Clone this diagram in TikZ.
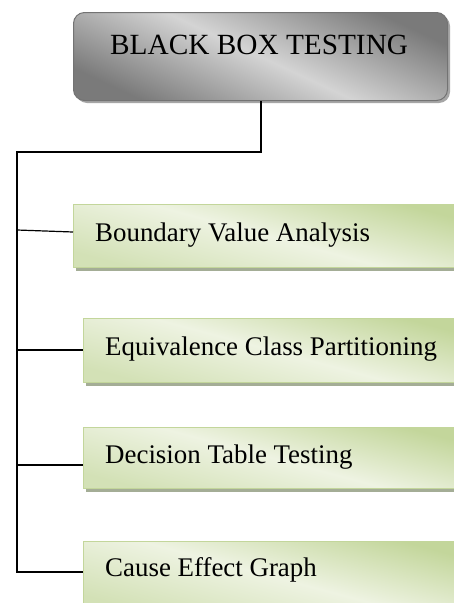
\documentclass[tikz,border=0pt]{standalone}
\usepackage{fontspec}
\setmainfont{Liberation Serif}
\definecolor{boxgreen}{HTML}{C3D69B}
\definecolor{greenmid}{HTML}{EEF3E2}
\definecolor{greenlow}{HTML}{D3E1B6}
\definecolor{greenshadow}{HTML}{A4AD96}
\definecolor{greydark}{HTML}{7A7A7A}
\definecolor{greylight}{HTML}{D4D4D4}
\tikzset{
  itembox/.style={draw=boxgreen, line width=0.8pt, shading=axis, top color=boxgreen, bottom color=greenlow, middle color=greenmid, shading angle=-15, anchor=north west, inner sep=0pt},
  itemtext/.style={anchor=base west, inner sep=0pt, font=\fontsize{26.9}{31}\selectfont},
  conn/.style={line width=1.2pt, black},
}
\begin{document}
\begin{tikzpicture}[x=1pt,y=-1pt]
\clip (0,0) rectangle (454,603);
\fill[white] (0,0) rectangle (454,603);
% top box
\fill[gray!70, rounded corners=11pt] (76,15) rectangle (450,103);
\node[draw=gray!90!black, line width=1pt, rounded corners=11pt, shading=axis, top color=greydark, bottom color=greydark, middle color=greylight, shading angle=-25, minimum width=374pt, minimum height=88pt, anchor=north west, inner sep=0pt] (top) at (73,12) {};
\node[anchor=base west, inner sep=0pt, font=\fontsize{29.3}{33}\selectfont] (toptext) at (110,54.5) {BLACK BOX TESTING};
% shadows
\fill[greenshadow] (76,207) rectangle (460,271);
\fill[greenshadow] (86,321) rectangle (460,386);
\fill[greenshadow] (86,430) rectangle (460,492);
\fill[greenshadow] (86,544) rectangle (460,610);
% item boxes
\node[itembox, minimum width=390pt, minimum height=63pt] (b1) at (73,204) {};
\node[itembox, minimum width=380pt, minimum height=64pt] (b2) at (83,318) {};
\node[itembox, minimum width=380pt, minimum height=61pt] (b3) at (83,427) {};
\node[itembox, minimum width=380pt, minimum height=70pt] (b4) at (83,541) {};
\node[itemtext] (t1) at (95,241.5) {Boundary Value Analysis};
\node[itemtext] (t2) at (105,355.5) {Equivalence Class Partitioning};
\node[itemtext] (t3) at (105,463) {Decision Table Testing};
\node[itemtext] (t4) at (105,576.5) {Cause Effect Graph};
% connectors
\coordinate (c0) at (top.south -| 261,0);
\coordinate (c1) at (261,152);
\coordinate (c2) at (17,152);
\coordinate (j1) at (17,230);
\coordinate (j2) at (17,350);
\coordinate (j3) at (17,465);
\coordinate (j4) at (17,572);
\draw[conn] (c0) -- (c1) -- (c2) -- (j4) -- (b4.west |- j4);
\draw[conn] (j1) -- (b1.west |- 0,232);
\draw[conn] (j2) -- (b2.west |- j2);
\draw[conn] (j3) -- (b3.west |- j3);
\end{tikzpicture}
\end{document}
